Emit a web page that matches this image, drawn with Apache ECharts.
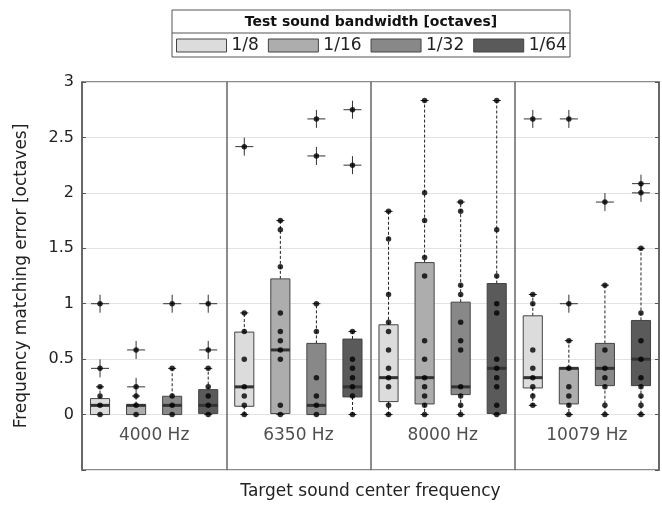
<!DOCTYPE html>
<html>
<head>
<meta charset="utf-8">
<script src="https://cdn.jsdelivr.net/npm/echarts@6/dist/echarts.min.js"></script>
<style>
  html, body { margin: 0; padding: 0; background: #fff; }
  #chart { width: 662px; height: 505px; }
</style>
</head>
<body>
<div id="chart"></div>
<script>
const groups = ['4000 Hz', '6350 Hz', '8000 Hz', '10079 Hz']
const bandwidths = ['1/8', '1/16', '1/32', '1/64']
const boxFill = ['#dcdcdc', '#adadad', '#888888', '#5a5a5a']

// [low whisker, q1, median, q3, high whisker] per group
const stats8 = [[0, 0, 0.083, 0.144, 0.25], [0, 0.075, 0.25, 0.744, 0.917], [0, 0.117, 0.333, 0.81, 1.833], [0.083, 0.24, 0.333, 0.891, 1.083]]
const stats16 = [[0, 0, 0.083, 0.09, 0.167], [0, 0.009, 0.583, 1.224, 1.75], [0, 0.096, 0.333, 1.371, 2.833], [0, 0.096, 0.417, 0.423, 0.667]]
const stats32 = [[0, 0, 0.083, 0.165, 0.417], [0, 0, 0.083, 0.642, 1.0], [0, 0.18, 0.25, 1.014, 1.917], [0, 0.261, 0.417, 0.642, 1.167]]
const stats64 = [[0, 0.009, 0.083, 0.225, 0.417], [0, 0.159, 0.25, 0.681, 0.75], [0, 0.01, 0.417, 1.182, 2.833], [0, 0.261, 0.5, 0.849, 1.5]]

// individual responses (dots)
const points8 = [
  [0, 0.083, 0.167, 0.25],
  [0, 0.083, 0.167, 0.25, 0.5, 0.75, 0.917],
  [0, 0.083, 0.25, 0.333, 0.417, 0.583, 0.75, 0.833, 1.083, 1.583, 1.833],
  [0.083, 0.167, 0.25, 0.333, 0.417, 0.583, 1.0, 1.083]
]
const points16 = [
  [0, 0.083, 0.167],
  [0, 0.083, 0.5, 0.583, 0.667, 0.75, 0.917, 1.333, 1.667, 1.75],
  [0, 0.083, 0.167, 0.25, 0.333, 0.5, 0.667, 1.25, 1.417, 1.75, 2.0, 2.833],
  [0, 0.083, 0.167, 0.25, 0.417, 0.667]
]
const points32 = [
  [0, 0.083, 0.167, 0.417],
  [0, 0.083, 0.167, 0.333, 0.75, 1.0],
  [0, 0.083, 0.167, 0.25, 0.583, 0.667, 0.833, 1.083, 1.167, 1.833, 1.917],
  [0, 0.083, 0.25, 0.333, 0.417, 0.583, 1.167]
]
const points64 = [
  [0, 0.083, 0.167, 0.25, 0.417],
  [0, 0.167, 0.25, 0.333, 0.417, 0.5, 0.75],
  [0, 0.083, 0.25, 0.333, 0.417, 0.5, 0.917, 1.0, 1.25, 1.667, 2.833],
  [0, 0.083, 0.167, 0.25, 0.333, 0.5, 0.667, 0.917, 1.5]
]

// outliers (+ markers)
const outliers8 = [[0.417, 1.0], [2.417], [], [2.667]]
const outliers16 = [[0.25, 0.583], [], [], [1.0, 2.667]]
const outliers32 = [[1.0], [2.333, 2.667], [], [1.917]]
const outliers64 = [[0.583, 1.0], [2.25, 2.75], [], [2.0, 2.083]]

const allStats = [stats8, stats16, stats32, stats64]
const allPoints = [points8, points16, points32, points64]
const allOutliers = [outliers8, outliers16, outliers32, outliers64]

const font = 'DejaVu Sans'
const pos = (g, b) => g * 4 + b + 0.5

function renderBox(params, api) {
  const x = api.value(0)
  const low = api.coord([x, api.value(1)])
  const q1 = api.coord([x, api.value(2)])
  const med = api.coord([x, api.value(3)])
  const q3 = api.coord([x, api.value(4)])
  const high = api.coord([x, api.value(5)])
  const cx = low[0]
  const w = api.size([1, 0])[0] * 0.53
  const dash = { stroke: '#222', lineWidth: 1, lineDash: [3, 2] }
  const cap = { stroke: '#222', lineWidth: 1 }
  return {
    type: 'group',
    children: [
      { type: 'line', shape: { x1: cx, y1: q3[1], x2: cx, y2: high[1] }, style: dash },
      { type: 'line', shape: { x1: cx, y1: q1[1], x2: cx, y2: low[1] }, style: dash },
      { type: 'line', shape: { x1: cx - 4, y1: high[1], x2: cx + 4, y2: high[1] }, style: cap },
      { type: 'line', shape: { x1: cx - 4, y1: low[1], x2: cx + 4, y2: low[1] }, style: cap },
      {
        type: 'rect',
        shape: { x: cx - w / 2, y: q3[1], width: w, height: q1[1] - q3[1] },
        style: { fill: api.visual('color'), stroke: '#444', lineWidth: 1 }
      },
      { type: 'line', shape: { x1: cx - w / 2, y1: med[1], x2: cx + w / 2, y2: med[1] }, style: { stroke: '#333', lineWidth: 3 } }
    ]
  }
}

function renderPlus(params, api) {
  const p = api.coord([api.value(0), api.value(1)])
  const s = { stroke: '#333', lineWidth: 1 }
  return {
    type: 'group',
    children: [
      { type: 'line', shape: { x1: p[0] - 9, y1: p[1], x2: p[0] + 9, y2: p[1] }, style: s },
      { type: 'line', shape: { x1: p[0], y1: p[1] - 9, x2: p[0], y2: p[1] + 9 }, style: s }
    ]
  }
}

const series = []
bandwidths.forEach((b, i) => {
  series.push({
    name: b,
    type: 'custom',
    renderItem: renderBox,
    itemStyle: { color: boxFill[i] },
    encode: { x: 0, y: [1, 2, 3, 4, 5] },
    data: allStats[i].map((s, g) => [pos(g, i)].concat(s)),
    z: 2
  })
})

const plusData = []
const dotData = []
bandwidths.forEach((b, i) => {
  groups.forEach((g, gi) => {
    allOutliers[i][gi].forEach(v => { plusData.push([pos(gi, i), v]); dotData.push([pos(gi, i), v]) })
    allPoints[i][gi].forEach(v => dotData.push([pos(gi, i), v]))
  })
})

series.push({
  type: 'custom',
  renderItem: renderPlus,
  encode: { x: 0, y: 1 },
  data: plusData,
  z: 3
})
series.push({
  type: 'scatter',
  symbol: 'circle',
  symbolSize: 5.5,
  itemStyle: { color: '#000' },
  data: dotData,
  z: 4
})
series.push({
  type: 'scatter',
  symbolSize: 0,
  data: groups.map((g, gi) => ({ value: [gi * 4 + 2, -0.19], name: g })),
  label: {
    show: true,
    position: 'inside',
    formatter: p => p.name,
    fontFamily: font,
    fontSize: 17,
    color: '#222'
  },
  z: 5
})

const chart = echarts.init(document.getElementById('chart'))
chart.setOption({
  animation: false,
  textStyle: { fontFamily: font },
  grid: {
    left: 82, right: 3, top: 82, bottom: 34,
    show: true, borderColor: '#666', borderWidth: 1.5
  },
  legend: {
    left: 176,
    top: 37,
    padding: 0,
    icon: 'rect',
    itemWidth: 50,
    itemHeight: 13,
    itemGap: 9,
    selectedMode: false,
    textStyle: { fontFamily: font, fontSize: 17, color: '#222' },
    data: bandwidths.map((b, i) => ({
      name: b,
      itemStyle: { color: boxFill[i], borderColor: '#444', borderWidth: 1 }
    }))
  },
  graphic: [
    { type: 'rect', shape: { x: 172, y: 10, width: 398, height: 47 }, style: { fill: 'none', stroke: '#555', lineWidth: 1 } },
    { type: 'line', shape: { x1: 172, y1: 33, x2: 570, y2: 33 }, style: { stroke: '#555', lineWidth: 1 } },
    {
      type: 'text', x: 371, y: 22,
      style: { text: 'Test sound bandwidth [octaves]', font: 'bold 14px "DejaVu Sans"', fill: '#111', align: 'center', verticalAlign: 'middle' }
    }
  ],
  xAxis: {
    type: 'value',
    min: 0,
    max: 16,
    interval: 4,
    name: 'Target sound center frequency',
    nameLocation: 'middle',
    nameGap: 13,
    nameTextStyle: { fontFamily: font, fontSize: 17, color: '#222', verticalAlign: 'top' },
    axisLine: { show: false },
    axisTick: { show: false },
    axisLabel: { show: false },
    splitLine: { show: true, lineStyle: { color: '#666', width: 1.5 } }
  },
  yAxis: [{
    type: 'value',
    min: -0.5,
    max: 3,
    interval: 0.5,
    name: 'Frequency matching error [octaves]',
    nameLocation: 'middle',
    nameGap: 52,
    nameTextStyle: { fontFamily: font, fontSize: 17, color: '#222' },
    axisLine: { show: true, lineStyle: { color: '#666', width: 1.5 } },
    axisTick: { show: true, inside: true, length: 4, lineStyle: { color: '#555' } },
    axisLabel: {
      fontFamily: font, fontSize: 16, color: '#222', margin: 8,
      formatter: v => (v < 0 ? '' : String(v))
    },
    splitLine: { show: true, lineStyle: { color: '#e2e2e2', width: 1 } }
  }, {
    type: 'value',
    position: 'right',
    min: -0.5,
    max: 3,
    interval: 0.5,
    axisLine: { show: true, lineStyle: { color: '#666', width: 1.5 } },
    axisTick: { show: true, inside: true, length: 4, lineStyle: { color: '#555' } },
    axisLabel: { show: false },
    splitLine: { show: false }
  }],
  series: series
})
</script>
</body>
</html>
